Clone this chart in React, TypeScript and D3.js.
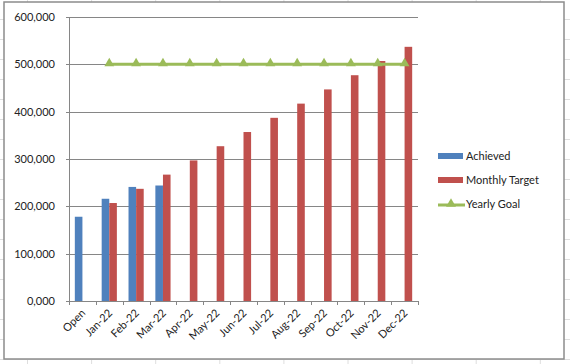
import React from 'react';
import * as d3 from 'd3';

const categories = ['Open', 'Jan-22', 'Feb-22', 'Mar-22', 'Apr-22', 'May-22', 'Jun-22', 'Jul-22', 'Aug-22', 'Sep-22', 'Oct-22', 'Nov-22', 'Dec-22'];
const achieved = [178000, 216000, 241000, 244000, null, null, null, null, null, null, null, null, null];
const monthlyTarget = [null, 207000, 237000, 267000, 297000, 327000, 357000, 387000, 417000, 447000, 477000, 507000, 537000];
const yearlyGoal = [null, 500000, 500000, 500000, 500000, 500000, 500000, 500000, 500000, 500000, 500000, 500000, 500000];
const yTicks = [0, 100000, 200000, 300000, 400000, 500000, 600000];

const BLUE = '#4F81BD';
const RED = '#C0504D';
const GREEN = '#9BBB59';
const GRID = '#868686';
const FONT = 'Lato, "Open Sans", sans-serif';

export default function App() {
  const W = 570;
  const H = 364;
  const plot = { left: 69, right: 418, top: 17, bottom: 301 };

  const x = d3.scaleBand<string>().domain(categories).range([plot.left, plot.right]);
  const y = d3.scaleLinear().domain([0, 600000]).range([plot.bottom, plot.top]);
  const barW = x.bandwidth() * 0.283;

  const fmt = (v: number) => (v === 0 ? '0,000' : d3.format(',')(v));

  const goalPts = categories
    .map((c, i) => ({ c, v: yearlyGoal[i] }))
    .filter((d) => d.v != null) as { c: string; v: number }[];
  const line = d3
    .line<{ c: string; v: number }>()
    .x((d) => (x(d.c) as number) + x.bandwidth() / 2)
    .y((d) => y(d.v));
  const tri = d3.symbol().type(d3.symbolTriangle).size(42)();

  // spreadsheet cell lines behind the chart
  const rows = d3.range(19, H, 20);
  const cols = d3.range(27, W, 64.1);

  return (
    <svg width={W} height={H} style={{ position: 'absolute', left: 0, top: 0, background: '#fff' }} fontFamily={FONT}>
      {rows.map((r) => (
        <line key={'r' + r} x1={0} x2={W} y1={r + 0.5} y2={r + 0.5} stroke="#dedede" />
      ))}
      {cols.map((c) => (
        <line key={'c' + c} x1={c + 0.5} x2={c + 0.5} y1={0} y2={H} stroke="#dedede" />
      ))}
      <rect x={4} y={2} width={560} height={357} fill="#fff" stroke="#8c8c8c" strokeWidth={1.5} />

      {yTicks.map((t) => (
        <g key={t}>
          <line x1={plot.left - 3} x2={plot.right} y1={Math.round(y(t)) + 0.5} y2={Math.round(y(t)) + 0.5} stroke={GRID} />
          <text x={55} y={y(t) + 4} textAnchor="end" fontSize={11} fill="#222">
            {fmt(t)}
          </text>
        </g>
      ))}
      <line x1={plot.left + 0.5} x2={plot.left + 0.5} y1={plot.top} y2={plot.bottom} stroke={GRID} />
      {categories.concat(['']).map((c, i) => {
        const px = Math.round(plot.left + i * x.step()) + 0.5;
        return <line key={'t' + i} x1={px} x2={px} y1={plot.bottom} y2={plot.bottom + 4} stroke={GRID} />;
      })}

      {categories.map((c, i) => {
        const cx = (x(c) as number) + x.bandwidth() / 2;
        return (
          <g key={c}>
            {achieved[i] != null && (
              <rect x={cx - barW} y={y(achieved[i] as number)} width={barW} height={plot.bottom - y(achieved[i] as number)} fill={BLUE} />
            )}
            {monthlyTarget[i] != null && (
              <rect x={cx} y={y(monthlyTarget[i] as number)} width={barW} height={plot.bottom - y(monthlyTarget[i] as number)} fill={RED} />
            )}
            <text
              transform={`translate(${cx + 1},${plot.bottom + 10}) rotate(-45)`}
              textAnchor="end"
              dy="0.35em"
              fontSize={11}
              fill="#222"
            >
              {c}
            </text>
          </g>
        );
      })}

      <path d={line(goalPts) || ''} fill="none" stroke={GREEN} strokeWidth={3} />
      {goalPts.map((d) => (
        <path key={'m' + d.c} d={tri || ''} transform={`translate(${(x(d.c) as number) + x.bandwidth() / 2},${y(d.v) - 1})`} fill={GREEN} />
      ))}

      <g fontSize={11} fill="#222">
        <rect x={438} y={153} width={25} height={6} fill={BLUE} />
        <text x={466} y={160}>Achieved</text>
        <rect x={438} y={177} width={25} height={6} fill={RED} />
        <text x={466} y={184}>Monthly Target</text>
        <line x1={438} x2={465} y1={205} y2={205} stroke={GREEN} strokeWidth={3} />
        <path d={tri || ''} transform="translate(451,204)" fill={GREEN} />
        <text x={466} y={208}>Yearly Goal</text>
      </g>
    </svg>
  );
}
